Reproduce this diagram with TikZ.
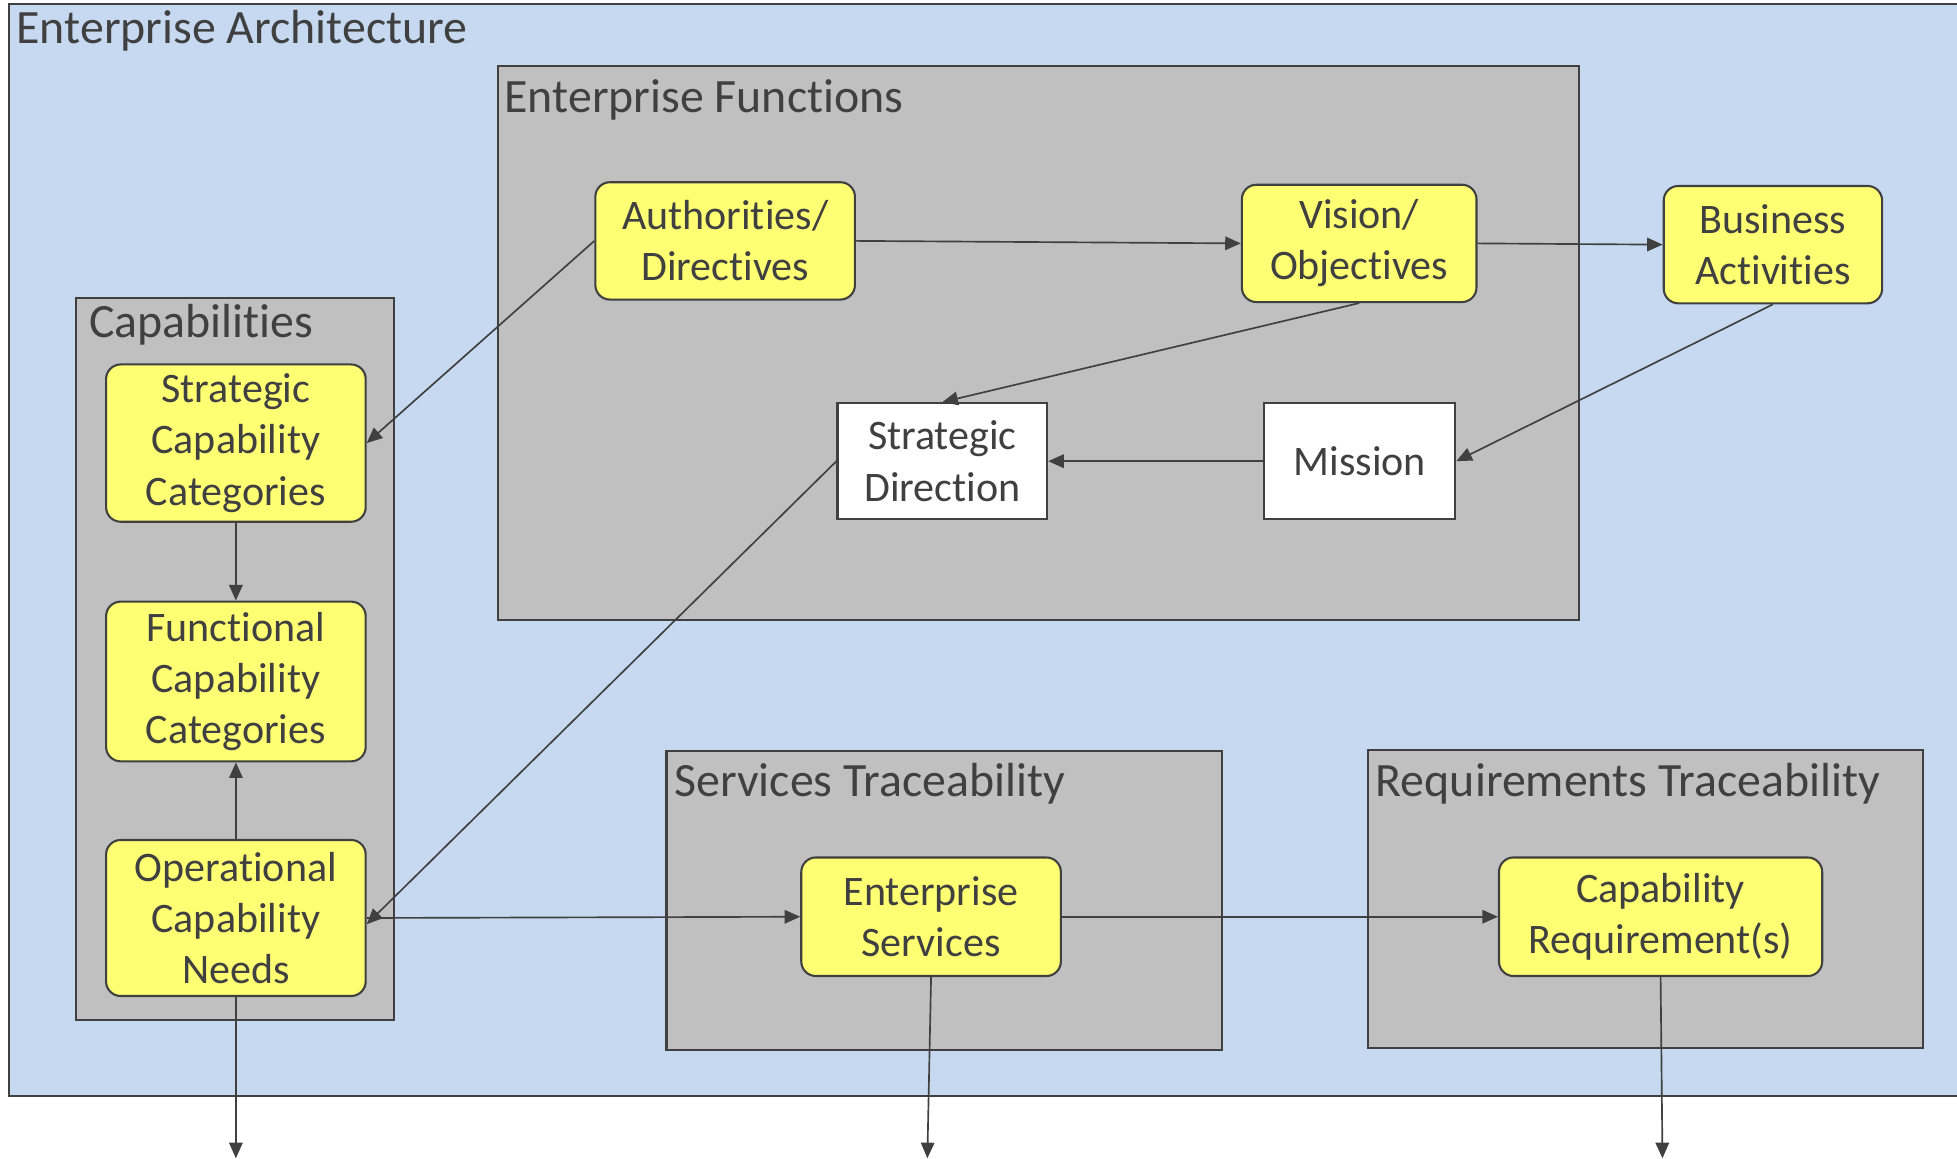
\documentclass[tikz,border=0pt]{standalone}
\usepackage{fontspec}
\setmainfont[Ligatures=NoCommon]{Carlito}
\usetikzlibrary{arrows.meta}
\definecolor{eablue}{HTML}{C6D9F1}
\definecolor{grpgray}{HTML}{C0C0C0}
\definecolor{boxyellow}{HTML}{FFFF73}
\definecolor{ink}{HTML}{404040}
\tikzset{
  group/.style={draw=ink, line width=1pt, fill=grpgray},
  grouptitle/.style={anchor=west, inner sep=0pt, text=ink, font=\fontsize{23}{28}\selectfont},
  itembox/.style={draw=ink, line width=1pt, fill=boxyellow, rounded corners=7pt,
    align=center, text=ink, font=\fontsize{20.2}{24.6}\selectfont, inner sep=0pt},
  plainbox/.style={itembox, fill=white, rounded corners=0pt},
  link/.style={draw=ink, line width=0.8pt, -{Triangle[length=7.5pt,width=6.5pt]}}
}
\begin{document}
\begin{tikzpicture}[x=0.6pt, y=-0.6pt]
\useasboundingbox (0,0) rectangle (1568,928);
\clip (0,0) rectangle (1568,928);

% outer enterprise architecture area
\draw[draw=ink, line width=1pt, fill=eablue] (7,3) rectangle (1590,878);
\node[grouptitle] (eatitle) at (13,25) {Enterprise Architecture};

% groups
\draw[group] (399,53) rectangle (1265,497);
\node[grouptitle] (eftitle) at (404,80) {Enterprise Functions};
\draw[group] (61,239) rectangle (316,817);
\node[grouptitle] (captitle) at (71,260) {Capabilities};
\draw[group] (534,602) rectangle (979,841);
\node[grouptitle] (svctitle) at (540,628) {Services Traceability};
\draw[group] (1096,601) rectangle (1541,840);
\node[grouptitle] (reqtitle) at (1102,628) {Requirements Traceability};

% items
\node[itembox, minimum width=208*0.6pt, minimum height=94*0.6pt] (auth) at (581,193) {Authorities/\\Directives};
\node[itembox, minimum width=188*0.6pt, minimum height=94*0.6pt] (vision) at (1089,195) {Vision/\\Objectives};
\node[itembox, minimum width=175*0.6pt, minimum height=94*0.6pt] (biz) at (1420.5,196) {Business\\Activities};
\node[plainbox, minimum width=168*0.6pt, minimum height=93*0.6pt] (sd) at (755,369.5) {Strategic\\Direction};
\node[plainbox, minimum width=153*0.6pt, minimum height=93*0.6pt] (mission) at (1089.5,369.5) {Mission};
\node[itembox, minimum width=208*0.6pt, minimum height=126*0.6pt] (scc) at (189,355) {Strategic\\Capability\\Categories};
\node[itembox, minimum width=208*0.6pt, minimum height=128*0.6pt] (fcc) at (189,546) {Functional\\Capability\\Categories};
\node[itembox, minimum width=208*0.6pt, minimum height=125*0.6pt] (ocn) at (189,735.5) {Operational\\Capability\\Needs};
\node[itembox, minimum width=208*0.6pt, minimum height=95*0.6pt] (es) at (746,734.5) {Enterprise\\Services};
\node[itembox, minimum width=259*0.6pt, minimum height=95*0.6pt] (cr) at (1330.5,734.5) {Capability\\Requirement(s)};

% free ends leaving the picture
\coordinate (ocnout) at (189,928);
\coordinate (esout) at (743,928);
\coordinate (crout) at (1332,928);

% connectors
\draw[link] (auth.west) -- (scc.east);
\draw[link] (auth.east) -- (vision.west);
\draw[link] (vision.east) -- (biz.west);
\draw[link] (vision.south) -- (sd.north);
\draw[link] (biz.south) -- (mission.east);
\draw[link] (mission.west) -- (sd.east);
\draw[link] (sd.west) -- ([yshift=-3pt]ocn.east);
\draw[link] (scc.south) -- (fcc.north);
\draw[link] (ocn.north) -- (fcc.south);
\draw[link] (ocn.east) -- (es.west);
\draw[link] (es.east) -- (cr.west);
\draw[link] (ocn.south) -- (ocnout);
\draw[link] (es.south) -- (esout);
\draw[link] (cr.south) -- (crout);
\end{tikzpicture}
\end{document}
